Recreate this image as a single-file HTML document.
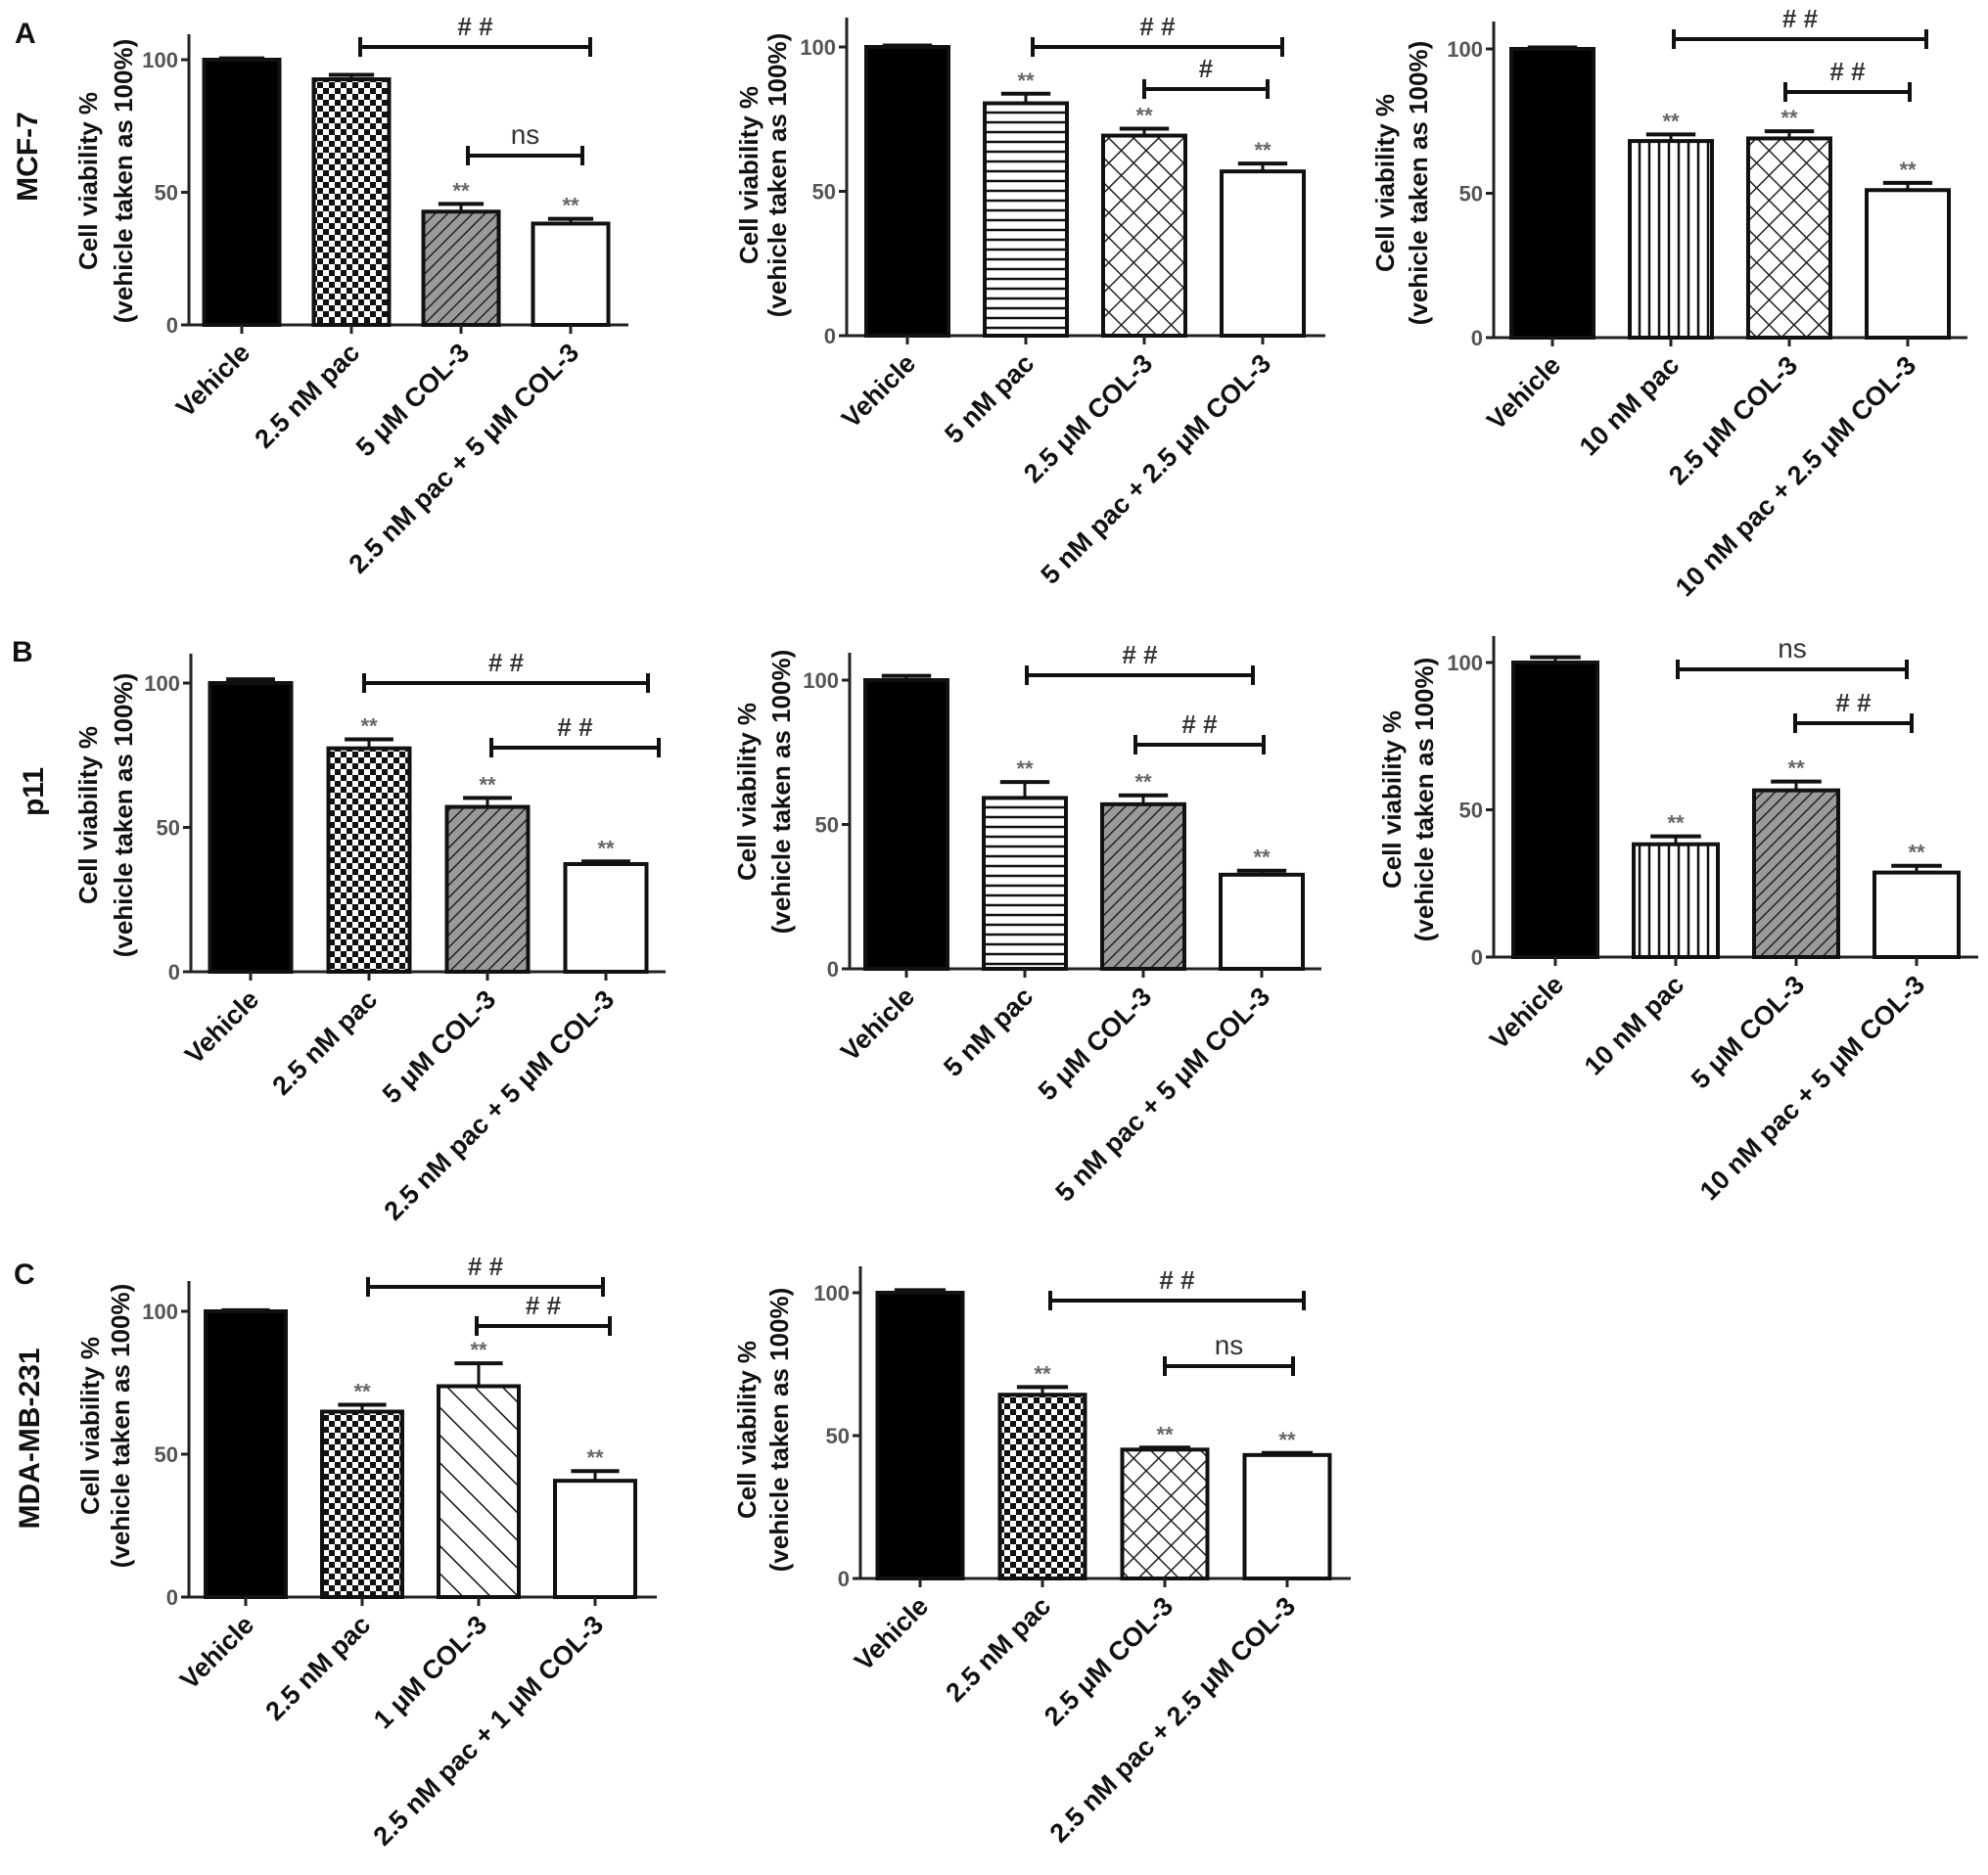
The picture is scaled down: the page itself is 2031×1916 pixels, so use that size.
<!DOCTYPE html>
<html><head><meta charset="utf-8">
<style>
html,body{margin:0;padding:0;background:#fff;}
svg{display:block;font-family:"Liberation Sans",Arial,sans-serif;font-weight:bold;}
</style></head>
<body>
<svg id="fig" width="2031" height="1916" viewBox="0 0 2031 1916" xmlns="http://www.w3.org/2000/svg">
<defs>
<pattern id="checker" width="12" height="12" patternUnits="userSpaceOnUse"><rect width="12" height="12" fill="#fff"/><rect width="6" height="6" fill="#111"/><rect x="6" y="6" width="6" height="6" fill="#111"/></pattern>
<pattern id="diag" width="9" height="9" patternUnits="userSpaceOnUse" patternTransform="rotate(45)"><rect width="9" height="9" fill="#9a9a9a"/><line x1="0" y1="0" x2="0" y2="9" stroke="#222" stroke-width="3"/></pattern>
<pattern id="hlines" width="10" height="10" patternUnits="userSpaceOnUse"><rect width="10" height="10" fill="#fff"/><line x1="0" y1="5" x2="10" y2="5" stroke="#111" stroke-width="2.5"/></pattern>
<pattern id="vlines" width="10" height="10" patternUnits="userSpaceOnUse"><rect width="10" height="10" fill="#fff"/><line x1="5" y1="0" x2="5" y2="10" stroke="#111" stroke-width="2.5"/></pattern>
<pattern id="cross" width="18" height="18" patternUnits="userSpaceOnUse" patternTransform="rotate(45)"><rect width="18" height="18" fill="#fff"/><line x1="0" y1="0" x2="18" y2="0" stroke="#222" stroke-width="3"/><line x1="0" y1="0" x2="0" y2="18" stroke="#222" stroke-width="3"/></pattern>
<pattern id="bdiag" width="20" height="20" patternUnits="userSpaceOnUse" patternTransform="rotate(-45)"><rect width="20" height="20" fill="#fff"/><line x1="0" y1="0" x2="0" y2="20" stroke="#111" stroke-width="3"/></pattern>
</defs>
</svg>
<script>
// ---- data arrays ----
const a1Categories = ["Vehicle","2.5 nM pac","5 μM COL-3","2.5 nM pac + 5 μM COL-3"];
const a1Values = [100, 92.6, 42.7, 38.2];
const a1Errors = [0.5, 1.7, 2.9, 1.8];
const a1Stars = [false, false, true, true];
const a2Categories = ["Vehicle","5 nM pac","2.5 μM COL-3","5 nM pac + 2.5 μM COL-3"];
const a2Values = [100, 80.5, 69.3, 56.9];
const a2Errors = [0.5, 3.3, 2.4, 2.7];
const a3Categories = ["Vehicle","10 nM pac","2.5 μM COL-3","10 nM pac + 2.5 μM COL-3"];
const a3Values = [100, 68.1, 69.0, 51.1];
const a3Errors = [0.5, 2.3, 2.5, 2.5];
const b1Categories = ["Vehicle","2.5 nM pac","5 μM COL-3","2.5 nM pac + 5 μM COL-3"];
const b1Values = [100, 77.4, 57.1, 37.3];
const b1Errors = [1.3, 3.1, 3.1, 0.9];
const b2Categories = ["Vehicle","5 nM pac","5 μM COL-3","5 nM pac + 5 μM COL-3"];
const b2Values = [100, 59.2, 57.0, 32.6];
const b2Errors = [1.5, 5.5, 3.1, 1.4];
const b3Categories = ["Vehicle","10 nM pac","5 μM COL-3","10 nM pac + 5 μM COL-3"];
const b3Values = [100, 38.3, 56.6, 28.7];
const b3Errors = [1.8, 2.7, 3.0, 2.3];
const c1Categories = ["Vehicle","2.5 nM pac","1 μM COL-3","2.5 nM pac + 1 μM COL-3"];
const c1Values = [100, 64.9, 73.8, 40.7];
const c1Errors = [0.4, 2.4, 8.0, 3.4];
const c2Categories = ["Vehicle","2.5 nM pac","2.5 μM COL-3","2.5 nM pac + 2.5 μM COL-3"];
const c2Values = [100, 64.3, 45.1, 43.2];
const c2Errors = [0.9, 2.7, 0.7, 0.7];
const yTicks = [0, 50, 100];
const starFlags = [false, true, true, true];
const a1Brackets = [[1,3,"top","##"],[2,3,"mid","ns"]];
const a2Brackets = [[1,3,"top","##"],[2,3,"mid","#"]];
const a3Brackets = [[1,3,"top","##"],[2,3,"mid","##"]];
const b1Brackets = [[1,3,"top","##"],[2,3,"mid","##"]];
const b2Brackets = [[1,3,"top","##"],[2,3,"mid","##"]];
const b3Brackets = [[1,3,"top","ns"],[2,3,"mid","##"]];
const c1Brackets = [[1,3,"top","##"],[2,3,"mid","##"]];
const c2Brackets = [[1,3,"top","##"],[2,3,"mid","ns"]];

// ---- layout (pixels) ----
const panels = [
 {id:"a1",cats:a1Categories,vals:a1Values,errs:a1Errors,stars:a1Stars,br:a1Brackets,fills:["#000","url(#checker)","url(#diag)","#fff"],ax:193,y0:332,y100:61,top:35,xend:642,first:54,step:112,bw:77,brY:[48,159],brX:[[368,603],[478,595]],yl:[90,126],ylc:185},
 {id:"a2",cats:a2Categories,vals:a2Values,errs:a2Errors,br:a2Brackets,fills:["#000","url(#hlines)","url(#cross)","#fff"],ax:865,y0:343,y100:48,top:18,xend:1354,first:62,step:121,bw:84,brY:[48,91],brX:[[1055,1310],[1169,1295]],yl:[765,794],ylc:179},
 {id:"a3",cats:a3Categories,vals:a3Values,errs:a3Errors,br:a3Brackets,fills:["#000","url(#vlines)","url(#cross)","#fff"],ax:1526,y0:345,y100:50,top:22,xend:2010,first:60,step:121,bw:84,brY:[40,94],brX:[[1710,1968],[1824,1951]],yl:[1415,1449],ylc:187},
 {id:"b1",cats:b1Categories,vals:b1Values,errs:b1Errors,br:b1Brackets,fills:["#000","url(#checker)","url(#diag)","#fff"],ax:195,y0:993,y100:698,top:668,xend:680,first:61,step:121,bw:83,brY:[698,764],brX:[[372,662],[502,673]],yl:[90,126],ylc:833},
 {id:"b2",cats:b2Categories,vals:b2Values,errs:b2Errors,br:b2Brackets,fills:["#000","url(#hlines)","url(#diag)","#fff"],ax:868,y0:990,y100:695,top:667,xend:1350,first:58,step:121,bw:84,brY:[690,761],brX:[[1049,1280],[1160,1291]],yl:[763,798],ylc:809},
 {id:"b3",cats:b3Categories,vals:b3Values,errs:b3Errors,br:b3Brackets,fills:["#000","url(#vlines)","url(#diag)","#fff"],ax:1526,y0:978,y100:677,top:650,xend:2021,first:63,step:123,bw:86,brY:[684,739],brX:[[1714,1948],[1834,1953]],yl:[1422,1455],ylc:817},
 {id:"c1",cats:c1Categories,vals:c1Values,errs:c1Errors,br:c1Brackets,fills:["#000","url(#checker)","url(#bdiag)","#fff"],ax:193,y0:1632,y100:1340,top:1309,xend:671,first:58,step:119,bw:82,brY:[1315,1355],brX:[[376,616],[487,623]],yl:[92,123],ylc:1457},
 {id:"c2",cats:c2Categories,vals:c2Values,errs:c2Errors,br:c2Brackets,fills:["#000","url(#checker)","url(#cross)","#fff"],ax:879,y0:1613,y100:1321,top:1294,xend:1380,first:61,step:125,bw:87,brY:[1329,1396],brX:[[1073,1332],[1190,1321]],yl:[763,796],ylc:1461}
];
const svg = document.getElementById('fig');
const NS = "http://www.w3.org/2000/svg";
function mk(tag, attrs, parent){const e=document.createElementNS(NS,tag);for(const k in attrs)e.setAttribute(k,attrs[k]);(parent||svg).appendChild(e);return e;}

panels.forEach(p=>{
  const g = mk('g',{});
  
  
  const yS = v => p.y0 - (p.y0-p.y100)*v/100;
  const xC = i => p.ax + p.first + p.step*i;
  const stars = p.stars || starFlags;
  const yAxis = mk('line',{x1:p.ax,y1:p.top,x2:p.ax,y2:p.y0+1,stroke:'#222','stroke-width':3},g);
  
  
  const xAxis = mk('line',{x1:p.ax-8,y1:p.y0,x2:p.xend,y2:p.y0,stroke:'#222','stroke-width':3},g);
  
  
  yTicks.forEach(t=>{
    mk('line',{x1:p.ax-8,y1:yS(t),x2:p.ax,y2:yS(t),stroke:'#222','stroke-width':3},g);
    const tl = mk('text',{x:p.ax-11,y:yS(t)+8,'text-anchor':'end','font-size':22,fill:'#555'},g);
    tl.textContent = t;
    
    
  });
  const yl1 = mk('text',{x:0,y:0,'text-anchor':'middle','font-size':26,fill:'#111',transform:`translate(${p.yl[0]+9},${p.ylc}) rotate(-90)`},g);
  yl1.textContent = 'Cell viability %';
  
  
  const yl2 = mk('text',{x:0,y:0,'text-anchor':'middle','font-size':26,fill:'#111',transform:`translate(${p.yl[1]+9},${p.ylc}) rotate(-90)`},g);
  yl2.textContent = '(vehicle taken as 100%)';
  
  
  p.vals.forEach((v,i)=>{
    const cx = xC(i);
    const top = yS(v+p.errs[i]);
    const e1 = mk('line',{x1:cx,y1:yS(v),x2:cx,y2:top,stroke:'#111','stroke-width':3},g);
    
    
    mk('line',{x1:cx-p.bw*0.3,y1:top,x2:cx+p.bw*0.3,y2:top,stroke:'#111','stroke-width':4},g);
    const r = mk('rect',{x:cx-p.bw/2,y:yS(v),width:p.bw,height:p.y0-yS(v),fill:p.fills[i],stroke:'#111','stroke-width':4},g);
    
    
    mk('line',{x1:cx,y1:p.y0,x2:cx,y2:p.y0+9,stroke:'#222','stroke-width':3},g);
    if(stars[i]){
      const st = mk('text',{x:cx,y:top-6,'text-anchor':'middle','font-size':22,fill:'#666'},g);
      st.textContent='**';
      
      
    }
    const cl = mk('text',{x:0,y:0,'text-anchor':'end','font-size':27,fill:'#111',transform:`translate(${cx+10},${p.y0+30}) rotate(-45)`},g);
    cl.textContent = p.cats[i];
    
    
  });
  p.br.forEach((b,k)=>{
    const y = p.brY[k], x1=p.brX[k][0], x2=p.brX[k][1];
    const bl = mk('path',{d:`M${x1},${y-10}V${y+10}M${x1},${y}H${x2}M${x2},${y-10}V${y+10}`,stroke:'#111','stroke-width':4,fill:'none'},g);
    
    
    const bt = mk('text',{x:(x1+x2)/2,y:y-12,'text-anchor':'middle','font-size':b[3]==='ns'?28:26,'font-weight':b[3]==='ns'?'normal':'bold',fill:'#333'},g);
    bt.textContent = b[3]==='##' ? '# #' : b[3];
    
    
  });
});
[["A",15,44,'panel-letter-a'],["B",12,676,'panel-letter-b'],["C",14,1312,'panel-letter-c']].forEach(d=>{
  const t = mk('text',{x:d[1],y:d[2],'font-size':30,fill:'#111'});
  t.textContent = d[0];
  
  
});
[["MCF-7",38,160,'row-label-mcf7'],["p11",44,809,'row-label-p11'],["MDA-MB-231",40,1470,'row-label-mda']].forEach(d=>{
  const t = mk('text',{x:0,y:0,'text-anchor':'middle','font-size':30,fill:'#111',transform:`translate(${d[1]},${d[2]}) rotate(-90)`});
  t.textContent = d[0];
  
  
});
</script>
</body></html>
